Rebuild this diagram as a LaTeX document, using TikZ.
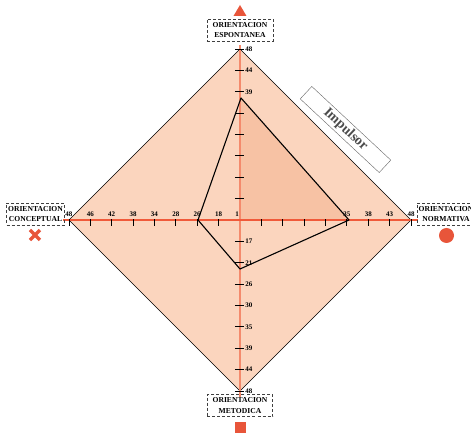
\documentclass[tikz,border=0pt]{standalone}
\usepackage{fontspec}
\setmainfont{Liberation Serif}
\usetikzlibrary{positioning}
\definecolor{peach}{HTML}{FBD5BE}
\definecolor{peachdark}{HTML}{F7C2A4}
\definecolor{axisred}{HTML}{F05A3A}
\definecolor{axissalmon}{HTML}{F48A6C}
\definecolor{markred}{HTML}{E8553A}

\begin{document}
\begin{tikzpicture}[
    x=1pt, y=1pt,
    axislabel/.style={draw=black!75, dashed, dash pattern=on 3pt off 2pt, line width=0.9pt, align=center,
        font=\bfseries\fontsize{7.6}{10.5}\selectfont, inner sep=1.5pt, minimum height=22pt},
    ticknum/.style={font=\bfseries\fontsize{7}{7}\selectfont, inner sep=1pt},
    tickmark/.style={black, line width=0.8pt},
    profile/.style={black, line width=1.1pt, line join=round}
]
\useasboundingbox (-240,-213) rectangle (231,220);

% Area
\draw[fill=peach, draw=black, line width=0.7pt] (0,171) -- (171,0) -- (0,-171) -- (-171,0) -- cycle;
\fill[peachdark] (0,0) -- (1,122) -- (109,0) -- cycle;

% Axes
\draw[axissalmon, line width=1.8pt] (0,175) -- (0,-177);
\draw[axisred, line width=1.1pt] (-177,0) -- (178,0);

% Ticks
\foreach \i/\lab in {1/,2/,3/,4/,5/,6/39,7/44,8/48}
  \draw[tickmark] (-5,\i*21.375) -- (4,\i*21.375) node[ticknum, right] {\lab};
\foreach \i/\lab in {1/17,2/21,3/26,4/30,5/35,6/39,7/44,8/48}
  \draw[tickmark] (-5,-\i*21.375) -- (4,-\i*21.375) node[ticknum, right] {\lab};
\foreach \i/\lab in {1/18,2/26,3/28,4/34,5/38,6/42,7/46,8/48}
  \draw[tickmark] (-\i*21.375,-6) -- (-\i*21.375,1) node[ticknum, above=1pt] {\lab};
\foreach \i/\lab in {1/,2/,3/,4/,5/35,6/38,7/43,8/48}
  \draw[tickmark] (\i*21.375,-6) -- (\i*21.375,1) node[ticknum, above=1pt] {\lab};
\node[ticknum] (origin) at (-3,6) {1};

% Profile
\draw[profile] (1,122) -- (109,0) -- (0,-49) -- (-42,0) -- cycle;

% Labels
\node[axislabel, minimum width=66pt] (espontanea) at (0,190) {ORIENTACION\\ESPONTANEA};
\node[axislabel, minimum width=55pt] (conceptual) at (-204.5,6) {ORIENTACION\\CONCEPTUAL};
\node[axislabel, minimum width=55pt] (normativa) at (206,6) {ORIENTACION\\NORMATIVA};
\node[axislabel, minimum width=65pt] (metodica) at (0,-185.5) {ORIENTACION\\METODICA};
\node[draw=black!60, fill=white, rotate=-43, minimum width=108pt, minimum height=17pt, inner sep=0pt,
    text=black!70, font=\bfseries\fontsize{14}{14}\selectfont] (impulsor) at (105.5,90.5) {Impulsor};

% Markers
\fill[markred] (-6.5,204) -- (6.5,204) -- (0,215) -- cycle;
\draw[markred, line width=3.5pt] (-210,-20) -- (-200,-10) (-210,-10) -- (-200,-20);
\fill[markred] (206.5,-15.5) circle (7.5);
\fill[markred] (-5,-213) rectangle (6,-202);

\end{tikzpicture}
\end{document}
